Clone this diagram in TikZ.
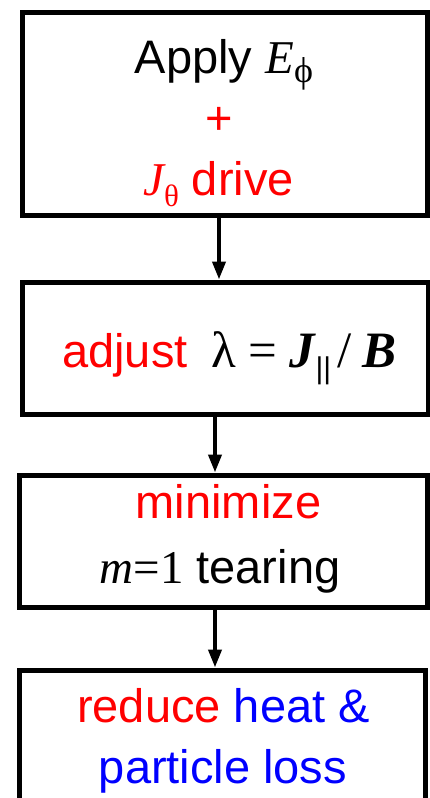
\documentclass[tikz,border=0pt]{standalone}
\usepackage{fontspec}
\setmainfont{Liberation Sans}
\newfontfamily\tms{Liberation Serif}
\usetikzlibrary{arrows.meta}
\begin{document}
\begin{tikzpicture}[x=1pt,y=-1pt,
  box/.style={draw, line width=5pt, inner sep=0pt},
  txt/.style={anchor=base, inner sep=0pt, font=\fontsize{47}{56}\selectfont},
  arr/.style={line width=4pt, -{Triangle[length=18pt,width=13pt]}}]
\useasboundingbox (0,0) rectangle (430,798);
\clip (0,0) rectangle (430,798);
% boxes
\node[box, minimum width=405pt, minimum height=203pt] (b1) at (224.5,113.5) {};
\node[box, minimum width=406pt, minimum height=132pt] (b2) at (225,348) {};
\node[box, minimum width=408pt, minimum height=132pt] (b3) at (223,541) {};
\node[box, minimum width=406pt, minimum height=200pt] (b4) at (222,770) {};
% texts
\node[txt] (t1a) at (224,73) {Apply {\tms\itshape E}\raisebox{-9pt}{\fontsize{36}{36}\selectfont\tms ϕ}};
\node[txt, red] (t1b) at (219,134) {+};
\node[txt, red] (t1c) at (218.5,195) {{\tms\itshape J}\raisebox{-11pt}{\fontsize{31}{31}\selectfont\tms θ} drive};
\node[txt, anchor=base west] (t2) at (62,367) {\textcolor{red}{adjust}\hspace{24pt}{\fontsize{51}{56}\selectfont\tms λ\hspace{12pt}=\hspace{12pt}\bfseries\itshape J}\hspace{1pt}\raisebox{-11pt}{\fontsize{30}{30}\selectfont ||}\hspace{6pt}{\fontsize{51}{56}\selectfont\tms /\hspace{11pt}\bfseries\itshape B}};
\node[txt, red] (t3a) at (228.5,518) {minimize};
\node[txt] (t3b) at (220,583) {{\tms\itshape m}{\tms =1} tearing};
\node[txt] (t4a) at (223.5,722) {\textcolor{red}{reduce} \textcolor{blue}{heat \&}};
\node[txt, blue] (t4b) at (223,783) {particle loss};
% arrows
\draw[arr] ([xshift=-5.5pt]b1.south) -- ([xshift=-6pt]b2.north);
\draw[arr] ([xshift=-10pt]b2.south) -- ([xshift=-8pt]b3.north);
\draw[arr] ([xshift=-8pt]b3.south) -- ([xshift=-7pt]b4.north);
\end{tikzpicture}
\end{document}
